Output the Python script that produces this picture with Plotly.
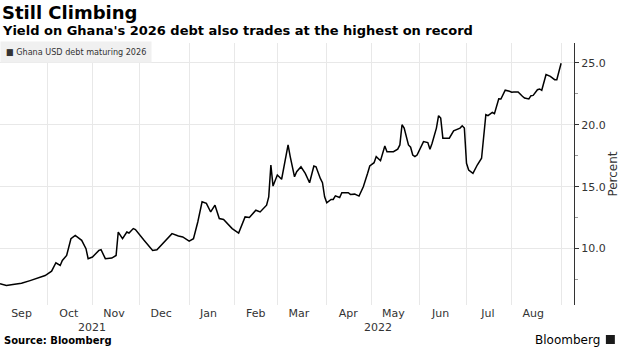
import plotly.graph_objects as go

# Ghana USD bond maturing 2026: yield, percent (business-day series)
dates = [
    "2021-09-01", "2021-09-06", "2021-09-09", "2021-09-15", "2021-09-21", "2021-09-23",
    "2021-09-29", "2021-09-30", "2021-10-05", "2021-10-07", "2021-10-11", "2021-10-12",
    "2021-10-14", "2021-10-18", "2021-10-20", "2021-10-25", "2021-10-27", "2021-10-28",
    "2021-11-01", "2021-11-04", "2021-11-05", "2021-11-09", "2021-11-12", "2021-11-16",
    "2021-11-17", "2021-11-19", "2021-11-23", "2021-11-24", "2021-11-26", "2021-11-29",
    "2021-12-03", "2021-12-09", "2021-12-13", "2021-12-17", "2021-12-22", "2021-12-27",
    "2021-12-29", "2022-01-03", "2022-01-05", "2022-01-07", "2022-01-11", "2022-01-13",
    "2022-01-17", "2022-01-19", "2022-01-21", "2022-01-25", "2022-01-28", "2022-01-31",
    "2022-02-03", "2022-02-08", "2022-02-10", "2022-02-15", "2022-02-17", "2022-02-22",
    "2022-02-23", "2022-02-24", "2022-02-25", "2022-03-01", "2022-03-03", "2022-03-08",
    "2022-03-09", "2022-03-11", "2022-03-14", "2022-03-16", "2022-03-18", "2022-03-22",
    "2022-03-24", "2022-03-25", "2022-03-29", "2022-03-30", "2022-03-31", "2022-04-01",
    "2022-04-05", "2022-04-06", "2022-04-07", "2022-04-11", "2022-04-12", "2022-04-15",
    "2022-04-18", "2022-04-20", "2022-04-22", "2022-04-26", "2022-04-28", "2022-04-29",
    "2022-05-03", "2022-05-04", "2022-05-06", "2022-05-10", "2022-05-11", "2022-05-16",
    "2022-05-18", "2022-05-19", "2022-05-20", "2022-05-23", "2022-05-25", "2022-05-26",
    "2022-05-27", "2022-05-30", "2022-05-31", "2022-06-02", "2022-06-03", "2022-06-07",
    "2022-06-08", "2022-06-09", "2022-06-13", "2022-06-14", "2022-06-15", "2022-06-16",
    "2022-06-21", "2022-06-23", "2022-06-28", "2022-06-29", "2022-06-30", "2022-07-01",
    "2022-07-04", "2022-07-06", "2022-07-07", "2022-07-08", "2022-07-12", "2022-07-13",
    "2022-07-14", "2022-07-15", "2022-07-19", "2022-07-20", "2022-07-22", "2022-07-25",
    "2022-07-27", "2022-07-29", "2022-08-01", "2022-08-02", "2022-08-04", "2022-08-08",
    "2022-08-09", "2022-08-11", "2022-08-12", "2022-08-15", "2022-08-17", "2022-08-18",
    "2022-08-19", "2022-08-23", "2022-08-25", "2022-08-29", "2022-08-30", "2022-09-01",
]
yields = [
    7.16, 7.02, 7.10, 7.20, 7.42, 7.53,
    7.75, 7.83, 8.18, 8.86, 8.64, 9.05,
    9.45, 10.80, 11.07, 10.67, 10.00, 9.19,
    9.32, 9.86, 9.91, 9.19, 9.24, 9.45,
    11.34, 10.80, 11.34, 11.26, 11.62, 11.54,
    10.67, 9.86, 9.91, 10.67, 11.21, 11.02,
    10.94, 10.61, 10.80, 12.15, 13.78, 13.65,
    12.96, 13.51, 12.43, 12.35, 11.75, 11.62,
    11.26, 12.56, 12.51, 13.10, 12.96, 13.51,
    14.18, 16.75, 15.05, 15.94, 15.60, 18.37,
    17.43, 15.80, 16.21, 16.61, 16.08, 15.32,
    16.67, 16.61, 15.67, 15.32, 14.18, 13.70,
    13.97, 13.97, 14.26, 14.13, 14.51, 14.51,
    14.38, 14.40, 14.24, 15.00, 16.08, 16.67,
    16.94, 17.43, 17.10, 18.29, 17.83, 17.83,
    18.03, 18.37, 20.00, 19.73, 18.37, 18.19,
    17.56, 17.43, 17.56, 18.29, 18.64, 18.56,
    18.03, 18.51, 19.73, 20.73, 20.54, 18.92,
    18.92, 19.51, 19.73, 19.92, 19.73, 16.89,
    16.35, 16.08, 16.48, 16.75, 17.30, 19.05,
    20.81, 20.73, 20.99, 20.89, 22.10, 22.08,
    22.79, 22.70, 22.62, 22.65, 22.65, 22.30,
    22.16, 22.08, 22.35, 22.37, 22.83, 22.89,
    22.78, 24.05, 23.91, 23.64, 23.64, 24.97,
]

series_name = "Ghana USD debt maturing 2026"
month_labels = ["Sep", "Oct", "Nov", "Dec", "Jan", "Feb", "Mar", "Apr", "May", "Jun", "Jul", "Aug"]
month_mids = ["2021-09-15", "2021-10-15", "2021-11-15", "2021-12-15", "2022-01-14", "2022-02-15",
              "2022-03-15", "2022-04-15", "2022-05-16", "2022-06-15", "2022-07-15", "2022-08-15"]
month_starts = ["2021-10-01", "2021-11-01", "2021-12-01", "2022-01-03", "2022-02-01", "2022-03-01",
                "2022-04-01", "2022-05-02", "2022-06-01", "2022-07-01", "2022-08-01", "2022-09-01"]
year_labels = ["2021", "2022"]
year_centers = ["2021-11-01", "2022-05-05"]
y_ticks = [10, 15, 20, 25]
y_minor = [7.5, 12.5, 17.5, 22.5]

FONT = "DejaVu Sans"
GRID = "#e8e8e8"

W, H = 620, 348
M_L, M_R, M_T, M_B = 0, 44, 43, 43
PLOT_W = W - M_L - M_R
PLOT_H = H - M_T - M_B


def px(x_pixel):
    """Page pixel x -> paper coordinate."""
    return (x_pixel - M_L) / PLOT_W


def py(y_pixel):
    """Page pixel y (from top) -> paper coordinate."""
    return (H - M_B - y_pixel) / PLOT_H


fig = go.Figure()
fig.add_trace(go.Scatter(
    x=dates, y=yields, mode="lines", name=series_name,
    line=dict(color="#000000", width=1.5), showlegend=False,
    hovertemplate="%{x|%b %d, %Y}: %{y:.2f}%<extra></extra>",
))

fig.update_layout(
    width=W, height=H,
    margin=dict(l=M_L, r=M_R, t=M_T, b=M_B),
    paper_bgcolor="white", plot_bgcolor="white",
    font=dict(family=FONT, color="#333333", size=11),
    showlegend=False,
)

fig.update_xaxes(
    type="date",
    range=["2021-09-01", "2022-09-09"],
    rangebreaks=[dict(bounds=["sat", "mon"])],
    tickmode="array", tickvals=month_mids, ticktext=month_labels,
    ticks="", showgrid=False, showline=False, zeroline=False,
    tickfont=dict(family=FONT, size=11, color="#333333"),
    minor=dict(tickmode="array", tickvals=month_starts, showgrid=True,
               gridcolor=GRID, gridwidth=1, ticks=""),
)

fig.update_yaxes(
    side="right", range=[5.45, 26.6],
    tickmode="array", tickvals=y_ticks, tickformat=".1f",
    ticks="outside", ticklen=4, tickcolor="#333333", tickwidth=1,
    showline=True, linecolor="#333333", linewidth=1,
    showgrid=True, gridcolor=GRID, gridwidth=1, zeroline=False,
    tickfont=dict(family=FONT, size=11, color="#333333"),
    title=dict(text="Percent", font=dict(family=FONT, size=12, color="#333333"), standoff=6),
    minor=dict(tickmode="array", tickvals=y_minor, ticks="outside", ticklen=3,
               tickcolor="#999999", showgrid=False),
)

# Titles
fig.add_annotation(text="<b>Still Climbing</b>", xref="paper", yref="paper",
                   x=px(0), y=py(13), xanchor="left", yanchor="middle", showarrow=False,
                   font=dict(family=FONT, size=18, color="#000000"))
fig.add_annotation(text="<b>Yield on Ghana's 2026 debt also trades at the highest on record</b>",
                   xref="paper", yref="paper", x=px(0), y=py(31), xanchor="left", yanchor="middle",
                   showarrow=False, font=dict(family=FONT, size=13, color="#000000"))

# Legend chip
fig.add_annotation(text="■ " + series_name, xref="paper", yref="paper",
                   x=px(0), y=py(52), xanchor="left", yanchor="middle", showarrow=False,
                   bgcolor="#f0f0f0", borderpad=5,
                   font=dict(family="DejaVu Sans Condensed", size=9, color="#333333"))

# Year labels under the month labels
for yl, yc in zip(year_labels, year_centers):
    fig.add_annotation(text=yl, x=yc, xref="x", yref="paper", y=py(327), yanchor="middle",
                       showarrow=False, font=dict(family=FONT, size=11, color="#333333"))

# Footer
fig.add_annotation(text="<b>Source: Bloomberg</b>", xref="paper", yref="paper",
                   x=px(2), y=py(340), xanchor="left", yanchor="middle",
                   showarrow=False, font=dict(family=FONT, size=10, color="#000000"))
fig.add_annotation(text="Bloomberg", xref="paper", yref="paper",
                   x=px(604), y=py(340), xanchor="right", yanchor="middle",
                   showarrow=False, font=dict(family=FONT, size=12, color="#000000"))
fig.add_shape(type="rect", xref="paper", yref="paper",
              x0=px(608), x1=px(617), y0=py(344), y1=py(335),
              fillcolor="#1a1a1a", line=dict(width=0), layer="above")

fig.write_html("out.html")
